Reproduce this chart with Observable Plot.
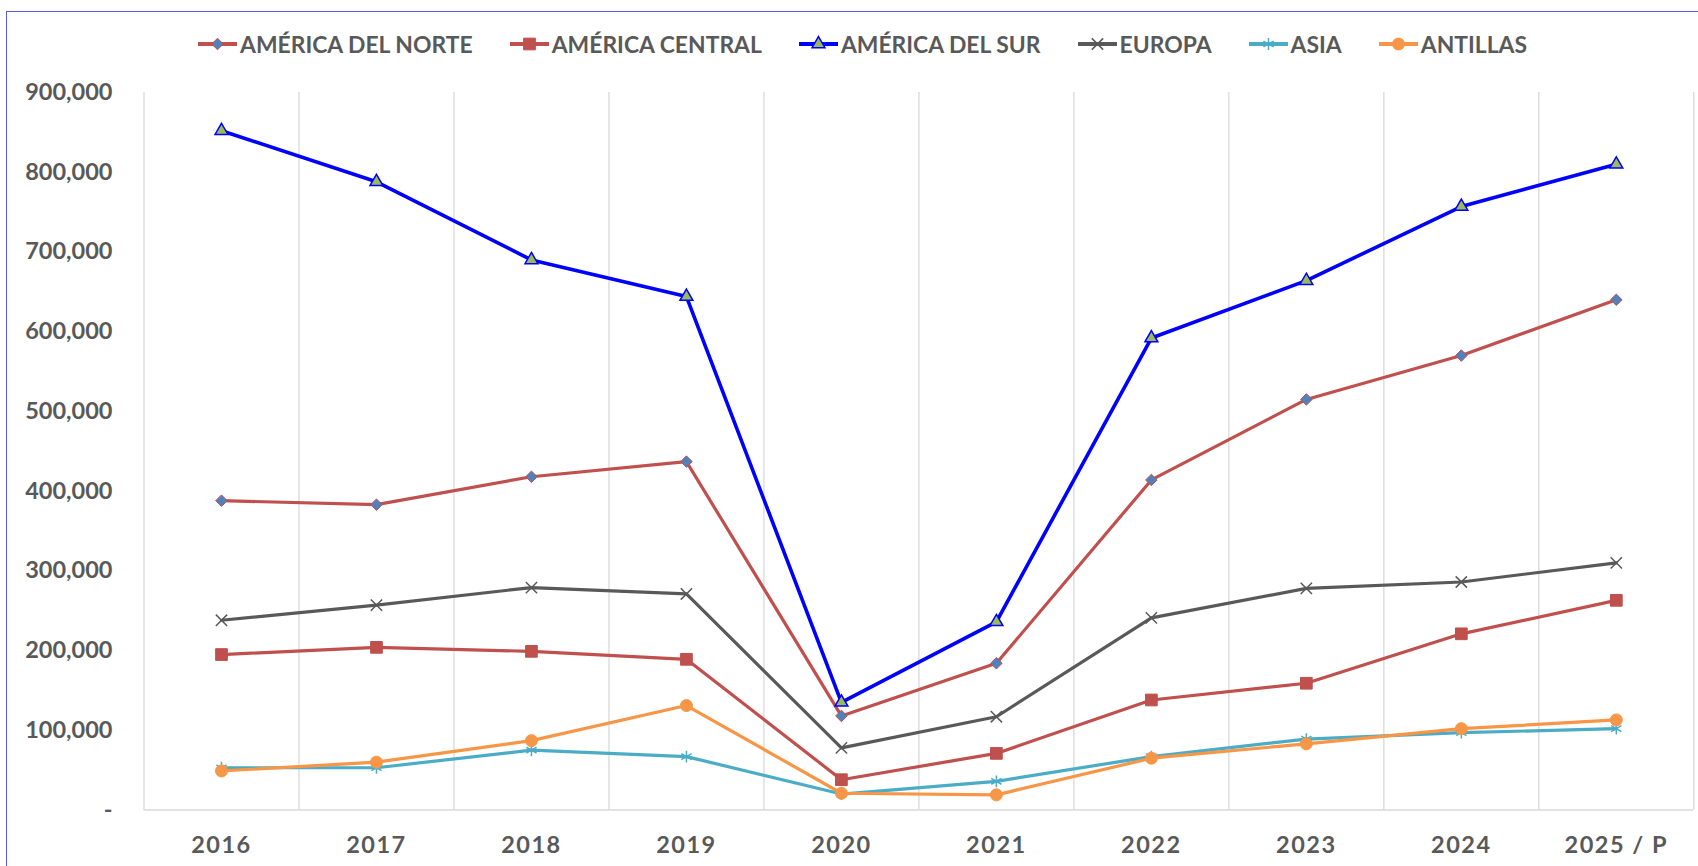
<!DOCTYPE html>
<html>
<head>
<meta charset="utf-8">
<script src="https://cdn.jsdelivr.net/npm/d3@7"></script>
<script src="https://cdn.jsdelivr.net/npm/@observablehq/plot@0.6"></script>
<style>
  html, body { margin: 0; padding: 0; background: #fff; }
  body { width: 1698px; height: 866px; overflow: hidden; position: relative; font-family: Lato, "Open Sans", sans-serif; }
  #frame { position: absolute; left: 6px; top: 11px; width: 1760px; height: 900px; border: 1.5px solid #5a5ae6; pointer-events: none; }
  #legend { height: 70px; box-sizing: border-box; padding-top: 18px; padding-left: 198px; display: flex; align-items: center; gap: 37px; }
  .item { display: flex; align-items: center; font-weight: 700; font-size: 22.9px; color: #595959; white-space: nowrap; }
  .item svg { margin-right: 3px; }
  g[aria-label="x-axis tick label"] text { letter-spacing: 1.5px; }
</style>
</head>
<body>
<div id="legend"></div>
<div id="chart"></div>
<div id="frame"></div>
<script>
// ---- data ----
const years = ["2016", "2017", "2018", "2019", "2020", "2021", "2022", "2023", "2024", "2025 / P"];
const yTicks = [0, 100000, 200000, 300000, 400000, 500000, 600000, 700000, 800000, 900000];

const norte    = [388000, 383000, 418000, 437000, 118000, 184000, 414000, 515000, 570000, 640000];
const central  = [195000, 204000, 199000, 189000,  38000,  71000, 138000, 159000, 221000, 263000];
const sur      = [852000, 788000, 690000, 644000, 135000, 236000, 592000, 664000, 757000, 810000];
const europa   = [238000, 257000, 279000, 271000,  78000, 117000, 241000, 278000, 286000, 310000];
const asia     = [ 53000,  53000,  75000,  67000,  20000,  36000,  67000,  89000,  97000, 102000];
const antillas = [ 49000,  60000,  87000, 131000,  21000,  19000,  65000,  83000, 102000, 113000];

const seriesNames = ["AMÉRICA DEL NORTE", "AMÉRICA CENTRAL", "AMÉRICA DEL SUR", "EUROPA", "ASIA", "ANTILLAS"];

// ---- styles ----
const series = [
  {name: seriesNames[0], values: norte,    line: "#C0504D", width: 3.2, symbol: "diamond2", r: 5.2, fill: "#4F81BD", stroke: "#C0504D", sw: 1},
  {name: seriesNames[1], values: central,  line: "#C0504D", width: 3.2, symbol: "square",   r: 6.6, fill: "#C0504D", stroke: "#C0504D", sw: 1},
  {name: seriesNames[2], values: sur,      line: "#0000FF", width: 3.6, symbol: "triangle", r: 4.8, fill: "#9BBB59", stroke: "#0000FF", sw: 1.5},
  {name: seriesNames[3], values: europa,   line: "#595959", width: 3.2, symbol: "times",    r: 5.2, fill: "none",    stroke: "#595959", sw: 1.5},
  {name: seriesNames[4], values: asia,     line: "#4BACC6", width: 3.2, symbol: "asterisk", r: 5.6, fill: "none",    stroke: "#4BACC6", sw: 1.5},
  {name: seriesNames[5], values: antillas, line: "#F79646", width: 3.2, symbol: "circle",   r: 6,   fill: "#F79646", stroke: "#F79646", sw: 1}
];

// ---- legend ----
const symbolMap = {diamond2: d3.symbolDiamond2, square: d3.symbolSquare, triangle: d3.symbolTriangle, times: d3.symbolTimes, asterisk: d3.symbolAsterisk, circle: d3.symbolCircle};
const legend = d3.select("#legend");
series.forEach(s => {
  const item = legend.append("div").attr("class", "item");
  const svg = item.append("svg").attr("width", 39).attr("height", 22);
  svg.append("line").attr("x1", 0).attr("x2", 39).attr("y1", 11).attr("y2", 11)
    .attr("stroke", s.line).attr("stroke-width", s.width + 0.6);
  svg.append("path")
    .attr("d", d3.symbol(symbolMap[s.symbol], Math.PI * s.r * s.r)())
    .attr("transform", "translate(19.5,11)")
    .attr("fill", s.fill).attr("stroke", s.stroke).attr("stroke-width", s.sw);
  item.append("span").text(s.name);
});

// ---- chart ----
const marks = [
  Plot.ruleX(d3.range(0, years.length + 1), {stroke: "#d9d9d9", strokeWidth: 1.3}),
  Plot.ruleY([0], {stroke: "#d9d9d9", strokeWidth: 1.5}),
  Plot.axisY({
    ticks: yTicks, tickSize: 0, tickPadding: 31.5,
    tickFormat: d => d === 0 ? "-" : d3.format(",")(d)
  }),
  Plot.axisX({
    ticks: years.map((_, i) => i + 0.5), tickSize: 0, tickPadding: 26,
    tickFormat: d => years[Math.floor(d)]
  })
];
series.forEach(s => {
  marks.push(Plot.line(s.values, {
    x: (d, i) => i + 0.5, y: d => d, stroke: s.line, strokeWidth: s.width,
    strokeLinejoin: "round", strokeLinecap: "round"
  }));
  marks.push(Plot.dot(s.values, {
    x: (d, i) => i + 0.5, y: d => d, symbol: s.symbol, r: s.r,
    fill: s.fill, stroke: s.stroke, strokeWidth: s.sw
  }));
});

const chart = Plot.plot({
  width: 1698,
  height: 796,
  marginLeft: 143.5,
  marginRight: 4.7,
  marginTop: 22,
  marginBottom: 56.5,
  x: {domain: [0, years.length], axis: null},
  y: {domain: [0, 900000], axis: null},
  style: {fontFamily: "Lato, 'Open Sans', sans-serif", fontSize: "23.5px", fontWeight: "700", color: "#595959", background: "transparent", overflow: "visible"},
  marks
});
document.getElementById("chart").appendChild(chart);
</script>
</body>
</html>
